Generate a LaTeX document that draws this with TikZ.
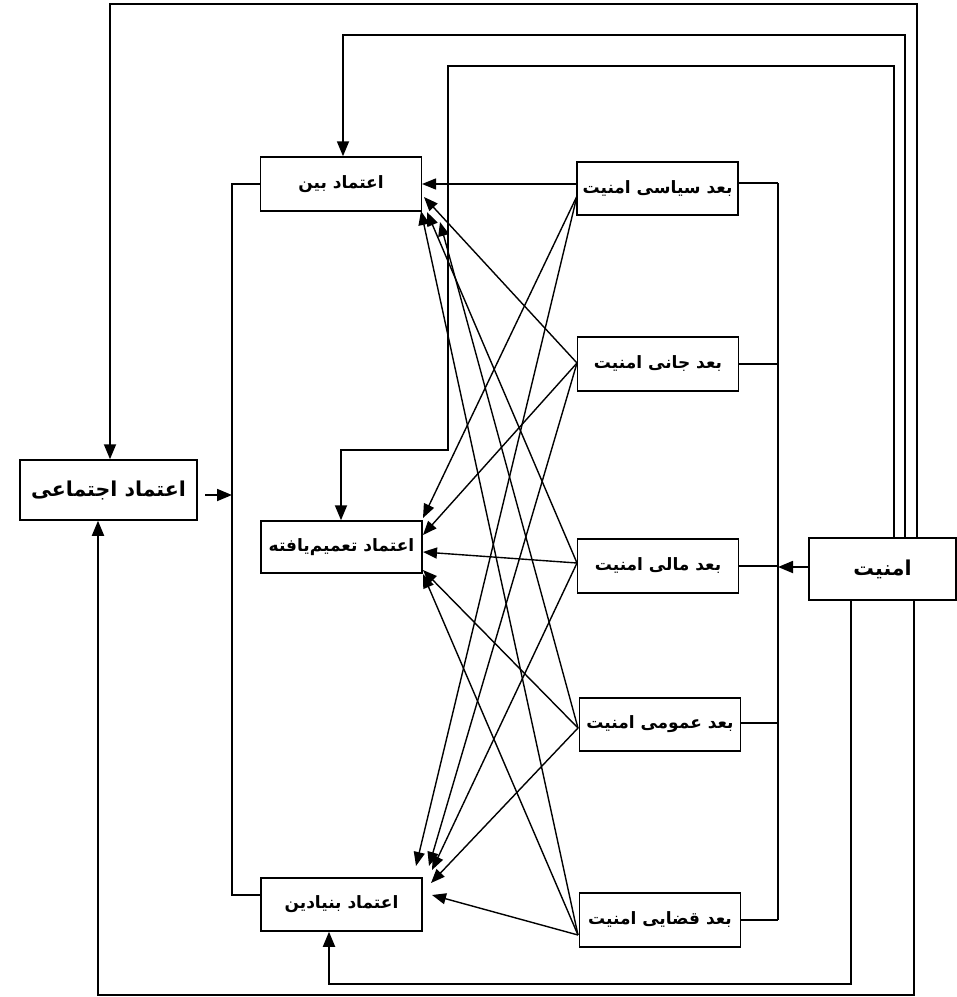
\documentclass[tikz,border=0pt]{standalone}
\usepackage{fontspec}
\usetikzlibrary{arrows.meta}
\newfontfamily\fa[Script=Arabic]{DejaVu Sans}
\TeXXeTstate=1
\begin{document}
\begin{tikzpicture}[x=1pt,y=-1pt,
  box/.style={draw,line width=1.5pt,inner sep=0pt,minimum width=161pt,minimum height=54pt,font=\fa\bfseries\fontsize{17}{20}\selectfont},
  bigbox/.style={box,font=\fa\bfseries\fontsize{20.5}{24}\selectfont},
  wire/.style={line width=1.5pt},
  rarr/.style={line width=1.8pt,-{Triangle[length=15pt,width=12pt]}},
  darr/.style={line width=1.4pt,-{Triangle[length=14pt,width=11pt]}}]
\useasboundingbox (0,0) rectangle (957,997);
% trust boxes
\node[box] (bein) at (341,184) {\beginR اعتماد بین\endR};
\node[box,minimum height=52pt] (tamim) at (341.5,547) {\beginR اعتماد تعمیم‌یافته\endR};
\node[box,minimum height=53pt] (bonyad) at (341.5,904.5) {\beginR اعتماد بنیادین\endR};
\node[bigbox,minimum width=177pt,minimum height=60pt] (ejt) at (108.5,490) {\beginR اعتماد اجتماعی\endR};
% dimension boxes
\node[box,minimum height=53pt] (siasi) at (657.5,188.5) {\beginR بعد سیاسی امنیت\endR};
\node[box] (jani) at (658,364) {\beginR بعد جانی امنیت\endR};
\node[box] (mali) at (658,566) {\beginR بعد مالی امنیت\endR};
\node[box,minimum height=53pt] (omomi) at (660,724.5) {\beginR بعد عمومی امنیت\endR};
\node[box] (ghazai) at (660,920) {\beginR بعد قضایی امنیت\endR};
\node[bigbox,minimum width=147pt,minimum height=62pt] (amn) at (882.5,569) {\beginR امنیت\endR};
% route coordinates
\coordinate (t1) at (110,4);
\coordinate (r1) at (917,4);
\coordinate (t2) at (343,35);
\coordinate (r2) at (905,35);
\coordinate (t3) at (448,66);
\coordinate (r3) at (894,66);
\coordinate (k3) at (448,450);
\coordinate (k3b) at (341,450);
\coordinate (b4) at (329,984);
\coordinate (r4) at (851,984);
\coordinate (b5) at (98,995);
\coordinate (r5) at (914,995);
\coordinate (busT) at (778,183);
\coordinate (busB) at (778,920);
\coordinate (lbT) at (232,184);
\coordinate (lbB) at (232,895);
\coordinate (ea) at (205,495);
\coordinate (eb) at (232,495);
% routes from amniat
\draw[rarr] (amn.north -| r1) -- (r1) -- (t1) -- (ejt.north -| t1);
\draw[rarr] (amn.north -| r2) -- (r2) -- (t2) -- (bein.north -| t2);
\draw[rarr] (amn.north -| r3) -- (r3) -- (t3) -- (k3) -- (k3b) -- (tamim.north -| k3b);
\draw[rarr] (amn.south -| r4) -- (r4) -- (b4) -- (bonyad.south -| b4);
\draw[rarr] (amn.south -| r5) -- (r5) -- (b5) -- (ejt.south -| b5);
\draw[rarr] (amn.west |- 0,567) -- (busT |- 0,567);
% right bus
\draw[wire] (busT) -- (busB);
\draw[wire] (siasi.east |- busT) -- (busT);
\draw[wire] (jani.east) -- (jani.east -| busT);
\draw[wire] (mali.east) -- (mali.east -| busT);
\draw[wire] (omomi.east |- 0,723) -- (busT |- 0,723);
\draw[wire] (ghazai.east) -- (busB);
% left bus
\draw[wire] (bein.west) -- (lbT) -- (lbB) -- (bonyad.west |- lbB);
\draw[rarr] (ea) -- (eb);
% dimension origins
\coordinate (oS) at (577,196);
\coordinate (oSh) at (577,184);
\coordinate (oJ) at (577,363);
\coordinate (oM) at (577,563);
\coordinate (oO) at (578,728);
\coordinate (oG) at (578,935);
% arrows into bein
\draw[darr] (oSh) -- (422,184);
\draw[darr] (oJ) -- (424,197);
\draw[darr] (oM) -- (427,212);
\draw[darr] (oO) -- (440,222);
\draw[darr] (oG) -- (421,211);
% arrows into tamim
\draw[darr] (oS) -- (423,518);
\draw[darr] (oJ) -- (423,535);
\draw[darr] (oM) -- (423,552);
\draw[darr] (oO) -- (423,570);
\draw[darr] (oG) -- (423,574);
% arrows into bonyadin
\draw[darr] (oS) -- (416,866);
\draw[darr] (oJ) -- (429,866);
\draw[darr] (oM) -- (432,870);
\draw[darr] (oO) -- (431,883);
\draw[darr] (oG) -- (432,895);
\end{tikzpicture}
\end{document}
